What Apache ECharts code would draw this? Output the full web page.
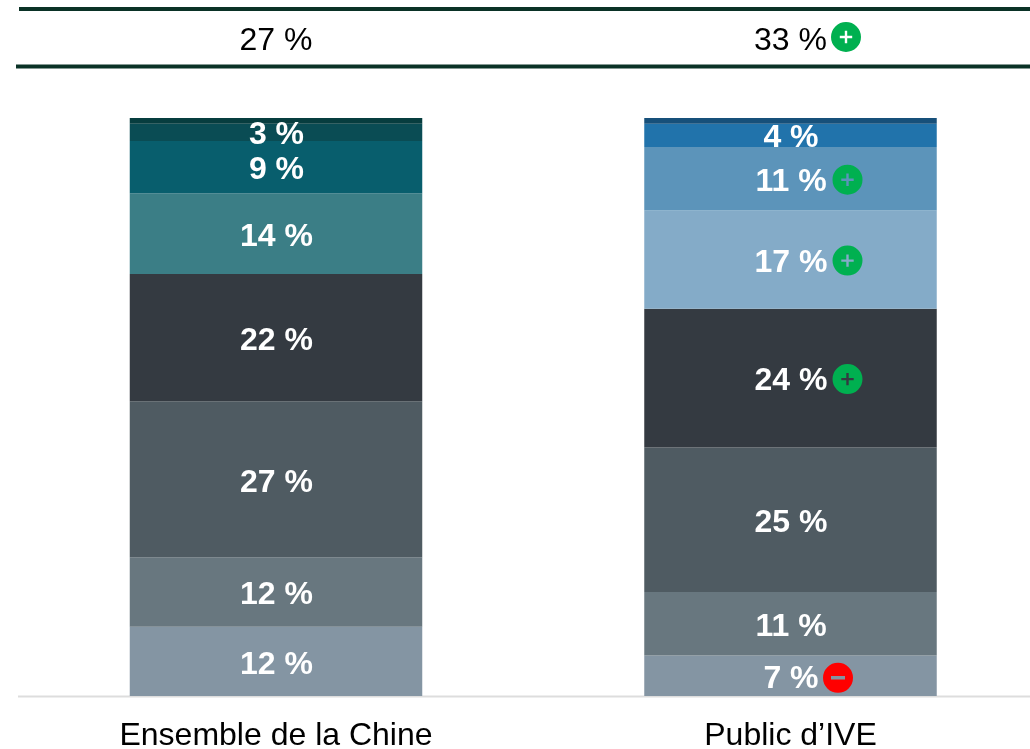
<!DOCTYPE html>
<html><head><meta charset="utf-8">
<style>html,body{margin:0;padding:0;background:#fff}#c{width:1030px;height:749px}</style>
<script src="https://cdn.jsdelivr.net/npm/echarts@6/dist/echarts.min.js"></script>
</head><body><div id="c"></div>
<script>
const categories = ['Ensemble de la Chine', 'Public d’IVE'];
const headerLabels = ['27 %', '33 %'];
// Stacked from the bottom up; the last level is the unlabelled top strip.
const chinaValues = [12, 12, 27, 22, 14, 9, 3, 1];
const iveValues = [7, 11, 25, 24, 17, 11, 4, 1];
const chinaColors = ['#8495a3', '#68777f', '#4f5b62', '#343a41', '#3b7e86', '#085e6d', '#0a4c54', '#073d3f'];
const iveColors = ['#8495a3', '#68777f', '#4f5b62', '#343a41', '#84abc8', '#5c94ba', '#2173ab', '#17507a'];
// Significance badges on the second column: [stack level, sign]
const iveBadges = [[0, '-'], [3, '+'], [4, '+'], [5, '+']];
const headerBadge = [1, '+'];

const FONT = '"Liberation Sans", Arial, sans-serif';
const PLUS = 'path://M15 0A15 15 0 1 1 15 30A15 15 0 1 1 15 0Z M13.8 8.8V13.8H8.8V16.2H13.8V21.2H16.2V16.2H21.2V13.8H16.2V8.8Z';
const MINUS = 'path://M15 0A15 15 0 1 1 15 30A15 15 0 1 1 15 0Z M8 13.3V16.7H22V13.3Z';
const GREEN = '#00b050', RED = '#ff0000';

const stackSeries = chinaValues.map((v, i) => ({
  type: 'bar', stack: 'total', barWidth: 292.5, xAxisIndex: 0, yAxisIndex: 0,
  name: 'Niveau ' + (i + 1), clip: false,
  data: [
    { value: v, itemStyle: { color: chinaColors[i] } },
    { value: iveValues[i], itemStyle: { color: iveColors[i] } }
  ],
  label: {
    show: i < chinaValues.length - 1, position: 'inside', offset: [0.5, i === 6 ? 2.5 : 3.5],
    formatter: p => p.value + ' %', color: '#fff',
    fontFamily: FONT, fontWeight: 'bold', fontSize: 32
  },
  emphasis: { disabled: true }
}));

function midOf(level) {
  let s = 0;
  for (let i = 0; i < level; i++) s += iveValues[i];
  return s + iveValues[level] / 2;
}

const badgeSeries = iveBadges.map(([level, sign]) => ({
  type: 'scatter', xAxisIndex: 0, yAxisIndex: 0, z: 5, silent: true, clip: false,
  symbol: sign === '+' ? PLUS : MINUS, symbolSize: 30, symbolKeepAspect: true,
  symbolOffset: [iveValues[level] >= 10 ? 57 : 47.5, sign === '+' ? 1 : 2],
  itemStyle: { color: sign === '+' ? GREEN : RED, opacity: 1 },
  data: [[categories[1], midOf(level)]]
}));

const headerSeries = {
  type: 'scatter', xAxisIndex: 1, yAxisIndex: 1, silent: true, clip: false,
  symbol: headerBadge[1] === '+' ? PLUS : MINUS, symbolSize: 30, symbolKeepAspect: true,
  symbolOffset: [55.5, -1],
  itemStyle: { color: GREEN, opacity: 1 },
  data: [[headerLabels[headerBadge[0]], 0.5]]
};

const chart = echarts.init(document.getElementById('c'), null, { renderer: 'canvas' });
chart.setOption({
  animation: false,
  backgroundColor: '#fff',
  grid: [
    { left: 276, top: 118, width: 514.5, height: 578, outerBoundsMode: 'none' },
    { left: 276, top: 9, width: 514.5, height: 58, outerBoundsMode: 'none' }
  ],
  xAxis: [
    {
      type: 'category', gridIndex: 0, data: categories, boundaryGap: false,
      axisLine: { show: false },
      axisTick: { show: false },
      axisLabel: { color: '#000', fontFamily: FONT, fontSize: 32, margin: 24, interval: 0, showMinLabel: true, showMaxLabel: true, hideOverlap: false }
    },
    {
      type: 'category', gridIndex: 1, data: headerLabels, position: 'top', boundaryGap: false,
      axisLine: { show: false }, axisTick: { show: false },
      axisLabel: { inside: true, color: '#000', fontFamily: FONT, fontSize: 32, margin: 16, interval: 0, showMinLabel: true, showMaxLabel: true }
    }
  ],
  yAxis: [
    { type: 'value', gridIndex: 0, min: 0, max: 100, show: false },
    { type: 'value', gridIndex: 1, min: 0, max: 1, show: false }
  ],
  series: [...stackSeries, ...badgeSeries, headerSeries],
  graphic: [
    { type: 'line', shape: { x1: 19, y1: 9, x2: 1030, y2: 9 }, style: { stroke: '#0a3226', lineWidth: 4 } },
    { type: 'line', shape: { x1: 16, y1: 66.5, x2: 1030, y2: 66.5 }, style: { stroke: '#0a3226', lineWidth: 4 } },
    { type: 'line', shape: { x1: 18, y1: 696.5, x2: 1030, y2: 696.5 }, style: { stroke: '#dddddd', lineWidth: 2 } }
  ]
});
</script></body></html>
